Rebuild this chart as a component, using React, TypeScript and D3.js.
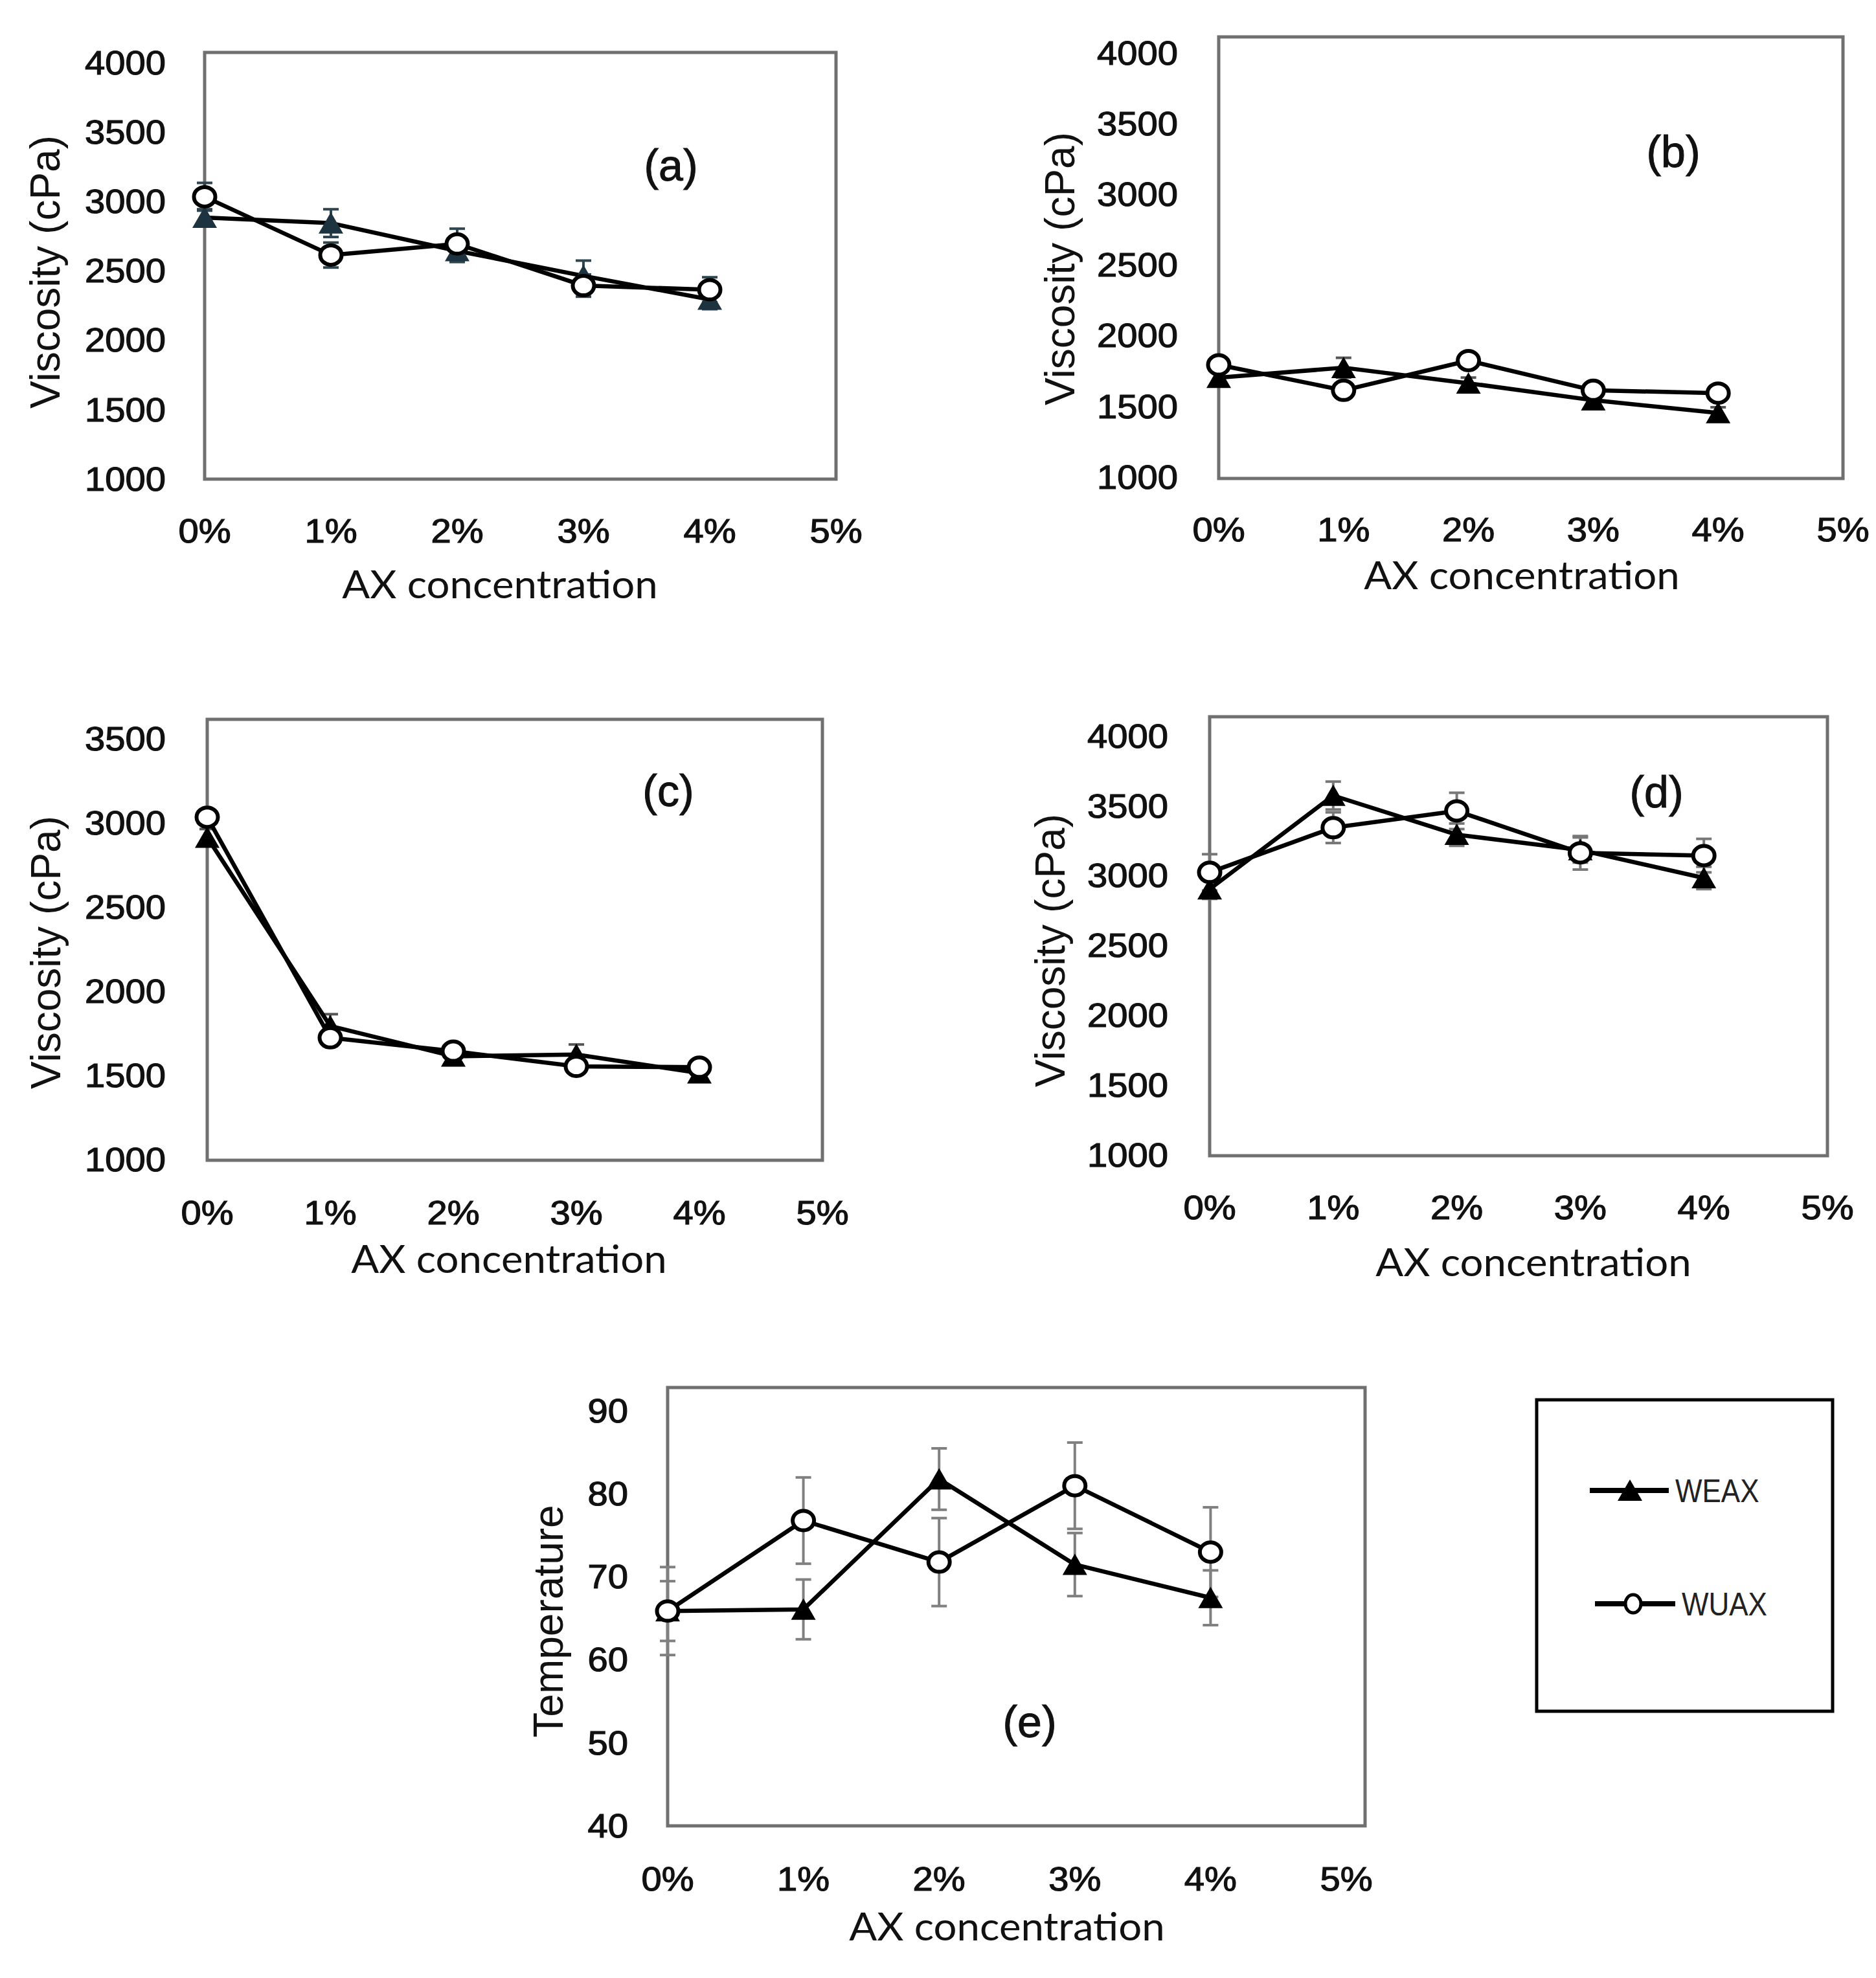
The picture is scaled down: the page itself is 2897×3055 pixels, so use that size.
import * as d3 from "d3"

// x axis (AX concentration, %)
const concentration = [0, 1, 2, 3, 4]
const xTicks = [0, 1, 2, 3, 4, 5]
const xTickLabels = ["0%", "1%", "2%", "3%", "4%", "5%"]

// y ticks
const viscosityTicks = [1000, 1500, 2000, 2500, 3000, 3500, 4000]
const viscosityTicksC = [1000, 1500, 2000, 2500, 3000, 3500]
const temperatureTicks = [40, 50, 60, 70, 80, 90]

// (a)
const weaxA = [2880, 2840, 2640, 2460, 2290]
const weaxErrA = [60, 100, 80, 110, 70]
const wuaxA = [3030, 2610, 2690, 2390, 2360]
const wuaxErrA = [100, 90, 110, 80, 90]

// (b)
const weaxB = [1700, 1770, 1660, 1540, 1450]
const weaxErrB = [50, 70, 40, 40, 40]
const wuaxB = [1790, 1610, 1820, 1610, 1590]
const wuaxErrB = [50, 50, 50, 40, 40]

// (c)
const weaxC = [2910, 1790, 1610, 1620, 1510]
const weaxErrC = [50, 70, 50, 60, 50]
const wuaxC = [3030, 1720, 1640, 1550, 1545]
const wuaxErrC = [40, 50, 40, 40, 40]

// (d)
const weaxD = [2900, 3570, 3290, 3180, 2980]
const weaxErrD = [70, 100, 80, 90, 80]
const wuaxD = [3020, 3340, 3460, 3160, 3140]
const wuaxErrD = [130, 110, 130, 120, 120]

// (e)
const weaxE = [65.8, 66.0, 81.7, 71.4, 67.4]
const weaxErrE = [3.6, 3.6, 3.7, 3.8, 3.3]
const wuaxE = [65.8, 76.7, 71.7, 80.9, 72.9]
const wuaxErrE = [5.3, 5.2, 5.3, 5.2, 5.4]

const TICK_FONT = "'Liberation Sans', Arial, sans-serif"
const TITLE_FONT = "Lato, 'Open Sans', sans-serif"

interface PanelSpec {
  tag: string
  weax: number[]
  weaxErr: number[]
  wuax: number[]
  wuaxErr: number[]
  yTicks: number[]
  yTitle: string
  frame: { l: number; r: number; t: number; b: number }
  x5: number
  yBottom: number
  yTop: number
  tickRight: number
  tickBaseline: number
  xTitle: [number, number]
  yTitlePos: [number, number]
  tagPos: [number, number]
  triColor: string
  errColor: string
}

const panels: PanelSpec[] = [
  {
    tag: "(a)", weax: weaxA, weaxErr: weaxErrA, wuax: wuaxA, wuaxErr: wuaxErrA,
    yTicks: viscosityTicks, yTitle: "Viscosity (cPa)",
    frame: { l: 316, r: 1291, t: 81, b: 740 }, x5: 1291, yBottom: 739, yTop: 96,
    tickRight: 256, tickBaseline: 838, xTitle: [772, 924], yTitlePos: [69, 420], tagPos: [1036, 255],
    triColor: "#1d3340", errColor: "#2f4550",
  },
  {
    tag: "(b)", weax: weaxB, weaxErr: weaxErrB, wuax: wuaxB, wuaxErr: wuaxErrB,
    yTicks: viscosityTicks, yTitle: "Viscosity (cPa)",
    frame: { l: 1882, r: 2846, t: 57, b: 739 }, x5: 2846, yBottom: 736, yTop: 81,
    tickRight: 1819, tickBaseline: 836, xTitle: [2350, 910], yTitlePos: [1636, 415], tagPos: [2584, 234],
    triColor: "#000", errColor: "#555",
  },
  {
    tag: "(c)", weax: weaxC, weaxErr: weaxErrC, wuax: wuaxC, wuaxErr: wuaxErrC,
    yTicks: viscosityTicksC, yTitle: "Viscosity (cPa)",
    frame: { l: 320, r: 1270, t: 1111, b: 1792 }, x5: 1270, yBottom: 1790, yTop: 1140,
    tickRight: 256, tickBaseline: 1891, xTitle: [786, 1966], yTitlePos: [70, 1471], tagPos: [1032, 1221],
    triColor: "#000", errColor: "#555",
  },
  {
    tag: "(d)", weax: weaxD, weaxErr: weaxErrD, wuax: wuaxD, wuaxErr: wuaxErrD,
    yTicks: viscosityTicks, yTitle: "Viscosity (cPa)",
    frame: { l: 1868, r: 2822, t: 1107, b: 1785 }, x5: 2822, yBottom: 1783, yTop: 1136,
    tickRight: 1804, tickBaseline: 1883, xTitle: [2368, 1971], yTitlePos: [1621, 1468], tagPos: [2558, 1223],
    triColor: "#000", errColor: "#777",
  },
  {
    tag: "(e)", weax: weaxE, weaxErr: weaxErrE, wuax: wuaxE, wuaxErr: wuaxErrE,
    yTicks: temperatureTicks, yTitle: "Temperature",
    frame: { l: 1031, r: 2108, t: 2143, b: 2820 }, x5: 2079, yBottom: 2819, yTop: 2178,
    tickRight: 970, tickBaseline: 2920, xTitle: [1555, 2997], yTitlePos: [846, 2504], tagPos: [1590, 2659],
    triColor: "#000", errColor: "#808080",
  },
]

const trianglePath = "M0,-17L19,16L-19,16Z"

function ErrorBars({ values, errs, x, y, color }: {
  values: number[]; errs: number[]; x: d3.ScaleLinear<number, number>; y: d3.ScaleLinear<number, number>; color: string
}) {
  return (
    <g stroke={color} strokeWidth={4}>
      {values.map((v, i) => {
        const cx = x(concentration[i])
        const y1 = y(v + errs[i])
        const y2 = y(v - errs[i])
        return (
          <g key={i}>
            <line x1={cx} x2={cx} y1={y1} y2={y2} />
            <line x1={cx - 12} x2={cx + 12} y1={y1} y2={y1} />
            <line x1={cx - 12} x2={cx + 12} y1={y2} y2={y2} />
          </g>
        )
      })}
    </g>
  )
}

function Panel({ p }: { p: PanelSpec }) {
  const x = d3.scaleLinear().domain([0, 5]).range([p.frame.l, p.x5])
  const y = d3
    .scaleLinear()
    .domain([p.yTicks[0], p.yTicks[p.yTicks.length - 1]])
    .range([p.yBottom, p.yTop])
  const line = d3
    .line<number>()
    .x((_, i) => x(concentration[i]))
    .y((d) => y(d))

  return (
    <g>
      {/* plot frame */}
      <rect
        x={p.frame.l}
        y={p.frame.t}
        width={p.frame.r - p.frame.l}
        height={p.frame.b - p.frame.t}
        fill="none"
        stroke="#707070"
        strokeWidth={5}
      />

      {/* tick labels */}
      <g fontFamily={TICK_FONT} fontSize={52} fill="#111" stroke="#111" strokeWidth={1.2}>
        {p.yTicks.map((t) => (
          <text
            key={t}
            transform={`translate(${p.tickRight},${y(t)}) scale(1.08,1)`}
            dy="0.36em"
            textAnchor="end"
          >
            {t}
          </text>
        ))}
        {xTicks.map((t, i) => (
          <text
            key={t}
            transform={`translate(${x(t)},${p.tickBaseline}) scale(1.08,1)`}
            textAnchor="middle"
          >
            {xTickLabels[i]}
          </text>
        ))}
      </g>

      {/* axis titles */}
      <text
        transform={`translate(${p.xTitle[0]},${p.xTitle[1]}) scale(1.06,1)`}
        textAnchor="middle"
        fontFamily={TITLE_FONT}
        fontSize={60}
        fill="#111"
      >
        AX concentration
      </text>
      <text
        transform={`translate(${p.yTitlePos[0]},${p.yTitlePos[1]}) rotate(-90)`}
        textAnchor="middle"
        dy="0.36em"
        fontFamily={TICK_FONT}
        fontSize={64}
        fill="#111"
      >
        {p.yTitle}
      </text>
      <text
        x={p.tagPos[0]}
        y={p.tagPos[1]}
        dy="0.36em"
        textAnchor="middle"
        fontFamily={TICK_FONT}
        fontSize={68}
        fill="#111"
        stroke="#111"
        strokeWidth={1}
      >
        {p.tag}
      </text>

      {/* error bars */}
      <ErrorBars values={p.weax} errs={p.weaxErr} x={x} y={y} color={p.errColor} />
      <ErrorBars values={p.wuax} errs={p.wuaxErr} x={x} y={y} color={p.errColor} />

      {/* series lines */}
      <path d={line(p.weax) ?? ""} fill="none" stroke="#000" strokeWidth={6.5} strokeLinejoin="round" />
      <path d={line(p.wuax) ?? ""} fill="none" stroke="#000" strokeWidth={6.5} strokeLinejoin="round" />

      {/* markers: WEAX triangles below, WUAX circles on top */}
      {p.weax.map((v, i) => (
        <path key={`t${i}`} d={trianglePath} transform={`translate(${x(concentration[i])},${y(v)})`} fill={p.triColor} />
      ))}
      {p.wuax.map((v, i) => (
        <ellipse
          key={`c${i}`}
          cx={x(concentration[i])}
          cy={y(v)}
          rx={16.5}
          ry={15}
          fill="#fff"
          stroke="#000"
          strokeWidth={6}
        />
      ))}
    </g>
  )
}

function Legend() {
  return (
    <g>
      <rect x={2373} y={2162} width={2830 - 2373} height={2643 - 2162} fill="#fff" stroke="#000" strokeWidth={5} />
      <line x1={2455} x2={2577} y1={2302} y2={2302} stroke="#000" strokeWidth={8} />
      <path d={trianglePath} transform="translate(2517,2302)" fill="#000" />
      <text
        transform="translate(2587,2320) scale(0.88,1)"
        fontFamily={TICK_FONT}
        fontSize={50}
        fill="#222"
      >
        WEAX
      </text>
      <line x1={2463} x2={2587} y1={2477} y2={2477} stroke="#000" strokeWidth={8} />
      <ellipse cx={2522} cy={2477} rx={12} ry={14} fill="#fff" stroke="#000" strokeWidth={5} />
      <text
        transform="translate(2597,2495) scale(0.88,1)"
        fontFamily={TICK_FONT}
        fontSize={50}
        fill="#222"
      >
        WUAX
      </text>
    </g>
  )
}

export default function App() {
  return (
    <svg
      width={2897}
      height={3055}
      viewBox="0 0 2897 3055"
      style={{ position: "absolute", left: 0, top: 0, background: "#fff" }}
    >
      <rect width={2897} height={3055} fill="#fff" />
      {panels.map((p) => (
        <Panel key={p.tag} p={p} />
      ))}
      <Legend />
    </svg>
  )
}
